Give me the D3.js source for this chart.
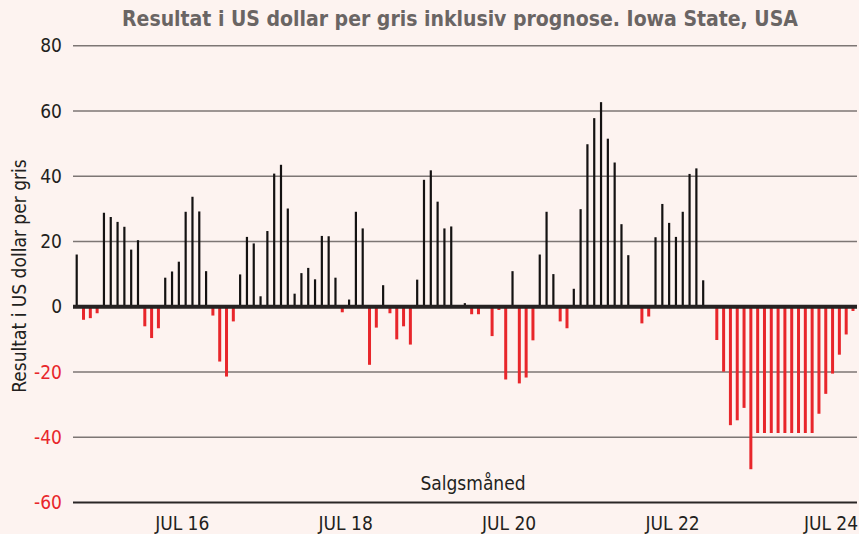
<!DOCTYPE html>
<html>
<head>
<meta charset="utf-8">
<script src="https://cdn.jsdelivr.net/npm/d3@7"></script>
<style>
  body { margin: 0; background: #fdf3f0; }
  svg text { font-family: "Liberation Sans Narrow", "DejaVu Sans Condensed", "Open Sans", sans-serif; }
</style>
</head>
<body>
<div id="wrapper"></div>
<script>
// monthly result, USD per pig, Mar 2015 - Sep 2024
const firstMonth = new Date(2015, 2, 1);
const lastMonth = new Date(2024, 9, 1);
const values = [
  16, -4, -3.5, -2, 28.8, 27.5, 26, 24.5, 17.5, 20.4,
  -6, -9.6, -6.6, 8.9, 10.8, 13.8, 29.1, 33.7, 29.2, 10.9,
  -2.7, -16.8, -21.4, -4.5, 9.9, 21.4, 19.4, 3.2, 23.2, 40.8,
  43.5, 30.1, 4, 10.3, 11.9, 8.4, 21.7, 21.6, 8.9, -1.7,
  2.2, 29.1, 24, -17.8, -6.4, 6.6, -2, -10, -6, -11.6,
  8.3, 38.9, 41.8, 32.2, 24, 24.6, 0, 1.1, -2.3, -2.3,
  0, -9, -1, -22.3, 10.9, -23.5, -21.7, -10.3, 16, 29.1,
  10, -4.5, -6.6, 5.5, 29.9, 49.8, 57.8, 62.7, 51.5, 44.2,
  25.3, 15.8, 0, -5.1, -3, 21.3, 31.5, 25.7, 21.4, 29.1,
  40.7, 42.4, 8.1, 0, -10.2, -19.9, -36.3, -34.8, -31, -49.8,
  -38.7, -38.7, -38.7, -38.7, -38.7, -38.7, -38.7, -38.7, -38.7, -32.8,
  -26.7, -20.5, -14.7, -8.5, -1.3,
];
const yTicks = [-60, -40, -20, 0, 20, 40, 60, 80];
const xTickDates = [new Date(2016, 6, 1), new Date(2018, 6, 1), new Date(2020, 6, 1), new Date(2022, 6, 1), new Date(2024, 6, 1)];
const xTickLabels = ["JUL 16", "JUL 18", "JUL 20", "JUL 22", "JUL 24"];

function drawChart() {
  const months = d3.timeMonth.range(firstMonth, lastMonth);
  const dataset = months.map((m, i) => ({ month: m, value: values[i] }));

  const dimensions = {
    width: 859,
    height: 534,
    margin: { top: 45, right: 2, bottom: 31, left: 73 },
  };
  dimensions.boundedWidth = dimensions.width - dimensions.margin.left - dimensions.margin.right;
  dimensions.boundedHeight = dimensions.height - dimensions.margin.top - dimensions.margin.bottom;

  const svg = d3.select("#wrapper")
    .append("svg")
    .attr("width", dimensions.width)
    .attr("height", dimensions.height)
    .style("background", "#fdf3f0");

  const bounds = svg.append("g")
    .attr("transform", `translate(${dimensions.margin.left},${dimensions.margin.top})`);

  // scales
  const xScale = d3.scaleBand()
    .domain(months.map((m) => +m))
    .range([0.3, dimensions.boundedWidth - 0.6]);

  const yScale = d3.scaleLinear()
    .domain([-60, 80])
    .range([dimensions.boundedHeight - 0.5, 0.7]);

  // gridlines
  bounds.append("g")
    .selectAll("line")
    .data(yTicks.filter((t) => t !== 0))
    .join("line")
    .attr("x1", 0)
    .attr("x2", dimensions.boundedWidth)
    .attr("y1", (d) => yScale(d))
    .attr("y2", (d) => yScale(d))
    .attr("stroke", (d) => (d === -60 ? "#2a2626" : "#7d7674"))
    .attr("stroke-width", (d) => (d === -60 ? 1.8 : 1.5));

  // y tick labels
  svg.append("g")
    .selectAll("text")
    .data(yTicks)
    .join("text")
    .attr("x", dimensions.margin.left - 11)
    .attr("y", (d) => dimensions.margin.top + yScale(d))
    .attr("dy", "0.35em")
    .style("text-anchor", "end")
    .style("font-size", "19px")
    .style("fill", (d) => (d < 0 ? "#e8262b" : "#231f20"))
    .text((d) => d);

  // bars
  bounds.append("g")
    .selectAll("rect")
    .data(dataset.filter((d) => d.value !== 0))
    .join("rect")
    .attr("x", (d) => xScale(+d.month) + xScale.bandwidth() / 2 - (d.value > 0 ? 1.1 : 1.5))
    .attr("width", (d) => (d.value > 0 ? 2.2 : 3))
    .attr("y", (d) => yScale(Math.max(0, d.value)))
    .attr("height", (d) => Math.abs(yScale(d.value) - yScale(0)))
    .attr("fill", (d) => (d.value > 0 ? "#141212" : "#e8262b"));

  // zero line
  bounds.append("line")
    .attr("x1", 0)
    .attr("x2", dimensions.boundedWidth)
    .attr("y1", yScale(0))
    .attr("y2", yScale(0))
    .attr("stroke", "#262222")
    .attr("stroke-width", 4);

  // x tick labels
  bounds.append("g")
    .selectAll("text")
    .data(xTickDates)
    .join("text")
    .attr("x", (d, i) => Math.min(xScale(+d), dimensions.boundedWidth - 26))
    .attr("y", dimensions.boundedHeight + 27)
    .style("text-anchor", "middle")
    .style("font-size", "19px")
    .style("fill", "#231f20")
    .text((d, i) => xTickLabels[i]);

  // x axis label
  svg.append("text")
    .attr("x", 473)
    .attr("y", 490)
    .style("text-anchor", "middle")
    .style("font-size", "19px")
    .style("fill", "#231f20")
    .text("Salgsmåned");

  // y axis label
  svg.append("text")
    .attr("transform", "rotate(-90)")
    .attr("x", -276)
    .attr("y", 26)
    .style("text-anchor", "middle")
    .style("font-size", "19px")
    .style("fill", "#231f20")
    .text("Resultat i US dollar per gris");

  // title
  svg.append("text")
    .attr("x", 460)
    .attr("y", 26)
    .style("text-anchor", "middle")
    .style("font-size", "21px")
    .style("font-weight", "bold")
    .style("fill", "#6a6564")
    .text("Resultat i US dollar per gris inklusiv prognose. Iowa State, USA");
}

drawChart();
</script>
</body>
</html>
